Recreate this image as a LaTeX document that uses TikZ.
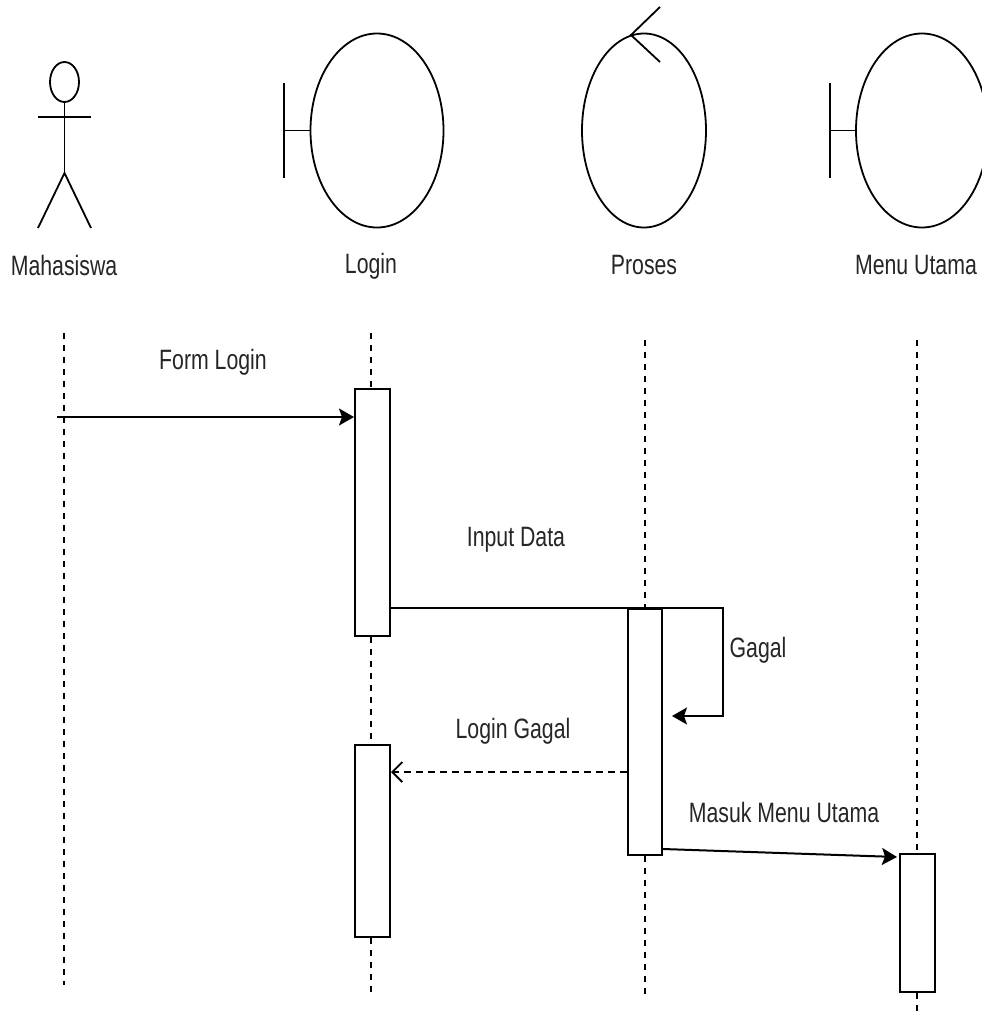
\documentclass[tikz,border=0pt]{standalone}
\usepackage{fontspec}
\setmainfont{Liberation Sans}
\usepackage{graphicx}
\usetikzlibrary{arrows.meta,shapes.geometric}
\newcommand{\lbl}[1]{\scalebox{0.76}[1]{#1}}
\begin{document}
\begin{tikzpicture}[x=1pt,y=-1pt,line width=2pt,
  txt/.style={font=\fontsize{28}{32}\selectfont,text=black!85,inner sep=0pt},
  lifeline/.style={line width=1.6pt,dash pattern=on 6pt off 6pt},
  actbox/.style={draw,fill=white,inner sep=0pt,line width=2pt},
  iconell/.style={draw,ellipse,inner sep=0pt,line width=1.8pt},
  msg/.style={-{Stealth[length=15pt,width=17pt,inset=3pt]}},
  ret/.style={line width=1.8pt,dash pattern=on 7pt off 5pt,-{Straight Barb[length=10pt,width=20pt]}}]
\useasboundingbox (0,0) rectangle (982,1015);
\clip (0,0) rectangle (982,1015);
\fill[white] (0,0) rectangle (982,1015);

% actor
\node[iconell,minimum width=29pt,minimum height=40pt] (head) at (64.5,82) {};
\coordinate (hip) at (64.5,173);
\coordinate (armL) at (38,117);
\coordinate (armR) at (91,117);
\coordinate (legL) at (38,228);
\coordinate (legR) at (91,228);
\draw[line width=1.8pt] (head.south) -- (hip);
\draw[line width=1.8pt] (armL) -- (armR);
\draw[line width=1.8pt] (legL) -- (hip) -- (legR);
\node[txt] (tA) at (64,265) {\lbl{Mahasiswa}};

% Login boundary
\node[iconell,minimum width=133pt,minimum height=194pt] (eL) at (377,130.5) {};
\coordinate (bLt) at (284,83);
\coordinate (bLb) at (284,178);
\draw[line width=1.8pt] (bLt) -- (bLb);
\draw[line width=1.8pt] (eL.west) -- (eL.west -| bLt);
\node[txt] (tL) at (371,266) {\lbl{Login}};

% Proses control
\node[iconell,minimum width=124pt,minimum height=194pt] (eP) at (644,130.5) {};
\coordinate (cTip) at (631,35);
\coordinate (cUp) at (660,7);
\coordinate (cDn) at (660,62);
\draw[line width=1.8pt] (cUp) -- (cTip) -- (cDn);
\node[txt] (tP) at (644,265) {\lbl{Proses}};

% Menu Utama boundary
\node[iconell,minimum width=132pt,minimum height=194pt] (eM) at (922,130.5) {};
\coordinate (bMt) at (830,83);
\coordinate (bMb) at (830,178);
\draw[line width=1.8pt] (bMt) -- (bMb);
\draw[line width=1.8pt] (eM.west) -- (eM.west -| bMt);
\node[txt] (tM) at (916,265) {\lbl{Menu Utama}};

% lifeline ends
\coordinate (lA1) at (64,333);
\coordinate (lA2) at (64,985);
\coordinate (lL1) at (371,333);
\coordinate (lL2) at (371,995);
\coordinate (lP1) at (645,340);
\coordinate (lP2) at (645,995);
\coordinate (lM1) at (917,340);
\coordinate (lM2) at (917,1012);

% activation boxes
\node[actbox,minimum width=35pt,minimum height=247pt] (L1) at (372.5,512.5) {};
\node[actbox,minimum width=35pt,minimum height=192pt] (L2) at (372.5,841) {};
\node[actbox,minimum width=34pt,minimum height=246pt] (P1) at (645,732) {};
\node[actbox,minimum width=35pt,minimum height=138pt] (M1) at (917.5,923) {};

\draw[lifeline] (lA1) -- (lA2);
\draw[lifeline] (lL1) -- (lL1 |- L1.north);
\draw[lifeline] (lL1 |- L1.south) -- (lL1 |- L2.north);
\draw[lifeline] (lL1 |- L2.south) -- (lL2);
\draw[lifeline] (lP1) -- (lP1 |- P1.north);
\draw[lifeline] (lP1 |- P1.south) -- (lP2);
\draw[lifeline] (lM1) -- (lM1 |- M1.north);
\draw[lifeline] (lM1 |- M1.south) -- (lM2);

% messages
\coordinate (fl) at (57,417);
\draw[msg] (fl) -- (fl -| L1.west);
\node[txt] (tFL) at (213,362) {\lbl{Form Login}};

\coordinate (idA) at (390,608);
\coordinate (idB) at (723,608);
\coordinate (idC) at (723,716);
\coordinate (idD) at (672,716);
\draw[msg] (idA -| L1.east) -- (idB) -- (idC) -- (idD);
\node[txt] (tID) at (516,540) {\lbl{Input Data}};
\node[txt] (tG) at (758,650) {\lbl{Gagal}};

\coordinate (lg) at (628,772);
\draw[ret] (lg -| P1.west) -- (lg -| L2.east);
\node[txt] (tLG) at (513,731) {\lbl{Login Gagal}};

\coordinate (mmA) at (662,849);
\coordinate (mmB) at (897,857);
\draw[msg] (mmA -| P1.east) -- (mmB);
\node[txt] (tMM) at (784,812) {\lbl{Masuk Menu Utama}};
\end{tikzpicture}
\end{document}
